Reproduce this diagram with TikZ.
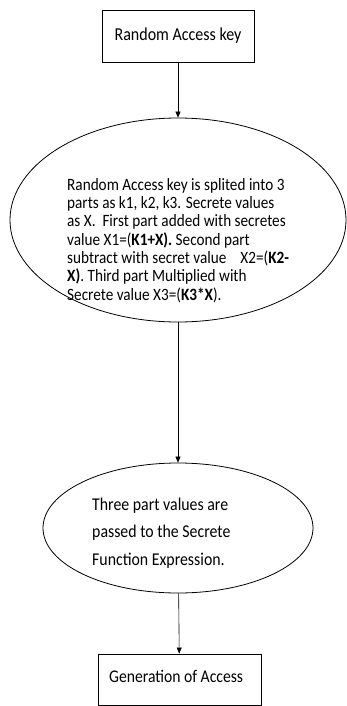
\documentclass[tikz,border=0pt]{standalone}
\usepackage{fontspec}
\setmainfont{Carlito}[FakeStretch=0.88]
\usetikzlibrary{shapes.geometric,arrows.meta}
\tikzset{
  x=1pt,y=1pt,
  boxnode/.style={draw,line width=0.9pt,rectangle,inner sep=0pt},
  ellnode/.style={draw,line width=0.8pt,ellipse,inner sep=0pt},
  txt/.style={inner sep=0pt,align=left},
  arr/.style={draw,line width=0.6pt,-{Triangle[length=6pt,width=5pt]}}
}
\begin{document}
\begin{tikzpicture}
\useasboundingbox[fill=white] (0,0) rectangle (347,-706);
\node[boxnode,minimum width=152pt,minimum height=52pt,txt,font=\fontsize{18.2}{20}\selectfont] (top) at (178,-36) {Random Access key};
\node[ellnode,minimum width=336pt,minimum height=204pt] (big) at (178,-220) {};
\node[txt,anchor=north west,font=\fontsize{17.3}{18.3}\selectfont] (bigtxt) at (67,-178) {Random Access key is splited into 3\\
parts as k1, k2, k3. Secrete values\\
as X.\ \ First part added with secretes\\
value X1=(\textbf{K1+X).} Second part\\
subtract with secret value\hspace{14pt}X2=(\textbf{K2-}\\
\textbf{X)}. Third part Multiplied with\\
Secrete value X3=(\textbf{K3*X}).};
\node[ellnode,minimum width=270pt,minimum height=130pt] (mid) at (178,-528) {};
\node[txt,anchor=north west,font=\fontsize{18}{27.5}\selectfont] (midtxt) at (92,-497.5) {Three part values are\\
passed to the Secrete\\
Function Expression.};
\node[boxnode,minimum width=163pt,minimum height=51pt] (bot) at (179.5,-679.5) {};
\node[txt,anchor=base west,font=\fontsize{17.8}{20}\selectfont] (bottxt) at (109,-682) {Generation of Access};
\draw[arr] (top) -- (big);
\draw[arr] (big) -- (mid);
\draw[arr] (mid) -- (bot);
\end{tikzpicture}
\end{document}
